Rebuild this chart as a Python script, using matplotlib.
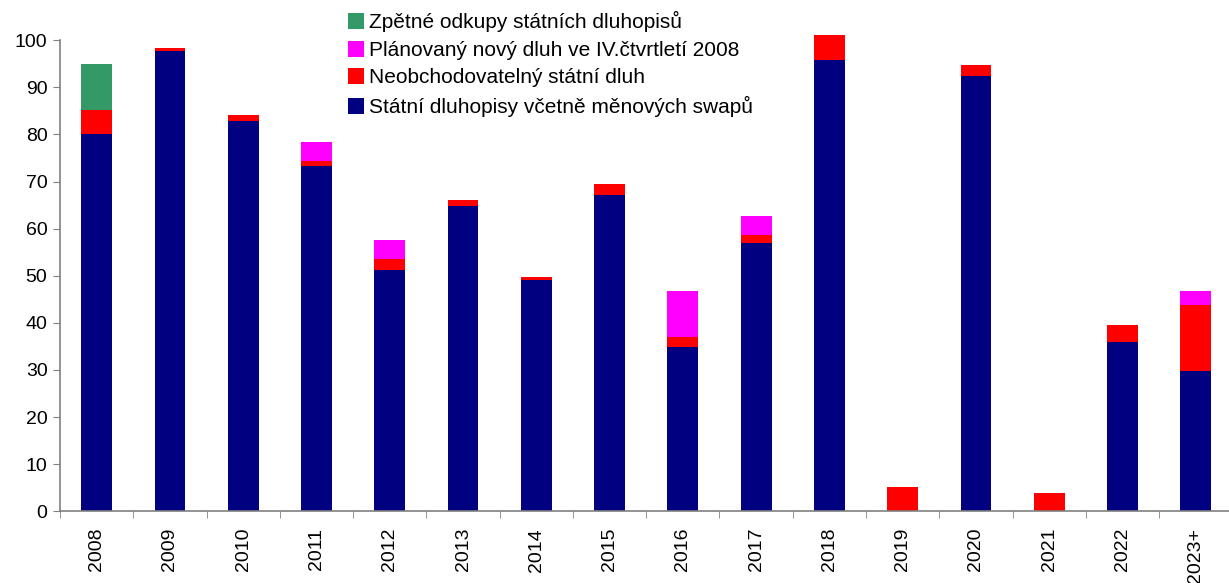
import numpy as np
import matplotlib
matplotlib.use('Agg')
import matplotlib.pyplot as plt
from matplotlib.ticker import FixedLocator

plt.rcParams['font.family'] = ['Liberation Sans', 'DejaVu Sans']

years = ['2008', '2009', '2010', '2011', '2012', '2013', '2014', '2015',
         '2016', '2017', '2018', '2019', '2020', '2021', '2022', '2023+']
bonds = [80.1, 97.7, 82.9, 73.4, 51.2, 64.8, 49.1, 67.2,
         34.9, 57.0, 95.8, 0.0, 92.4, 0.0, 36.0, 29.8]
nontradable = [5.1, 0.7, 1.2, 1.0, 2.4, 1.3, 0.6, 2.3,
               2.1, 1.7, 5.3, 5.2, 2.4, 3.9, 3.6, 14.0]
planned = [0.0, 0.0, 0.0, 4.0, 4.0, 0.0, 0.0, 0.0,
           9.8, 4.0, 0.0, 0.0, 0.0, 0.0, 0.0, 3.0]
buybacks = [9.8, 0.0, 0.0, 0.0, 0.0, 0.0, 0.0, 0.0,
            0.0, 0.0, 0.0, 0.0, 0.0, 0.0, 0.0, 0.0]

labels = ['Státní dluhopisy včetně měnových swapů',
          'Neobchodovatelný státní dluh',
          'Plánovaný nový dluh ve IV.čtvrtletí 2008',
          'Zpětné odkupy státních dluhopisů']
colours = ['#000080', '#FF0000', '#FF00FF', '#339966']

fig = plt.figure(figsize=(12.29, 5.83), dpi=100)
ax = fig.add_axes([0.0488, 0.123, 0.954, 0.808])

x = np.arange(len(years))
bottom = np.zeros(len(years))
handles = []
for vals, lab, col in zip([bonds, nontradable, planned, buybacks], labels, colours):
    vals = np.array(vals)
    h = ax.bar(x, vals, 0.42, bottom=bottom, color=col, label=lab,
               linewidth=0, clip_on=False)
    handles.append(h)
    bottom += vals

ax.set_xlim(-0.5, len(years) - 0.5)
ax.set_ylim(0, 100)
ax.set_yticks(range(0, 101, 10))
ax.tick_params(axis='y', labelsize=14, length=5, color='#808080', pad=4)

ax.set_xticks(x)
ax.set_xticklabels(years, rotation=90, fontsize=14)
ax.tick_params(axis='x', which='major', length=0, pad=12)
ax.xaxis.set_minor_locator(FixedLocator(np.arange(-0.5, len(years), 1)))
ax.tick_params(axis='x', which='minor', length=5, color='#808080')

for s in ['top', 'right']:
    ax.spines[s].set_visible(False)
for s in ['left', 'bottom']:
    ax.spines[s].set_color('#808080')
    ax.spines[s].set_linewidth(1.2)

fig.legend(handles=handles[::-1], labels=labels[::-1], loc='upper left',
           bbox_to_anchor=(0.276, 0.995), frameon=False, fontsize=15,
           handlelength=0.8, handleheight=0.8, handletextpad=0.25,
           labelspacing=0.4, borderaxespad=0)

fig.savefig('out.png', dpi=100)
